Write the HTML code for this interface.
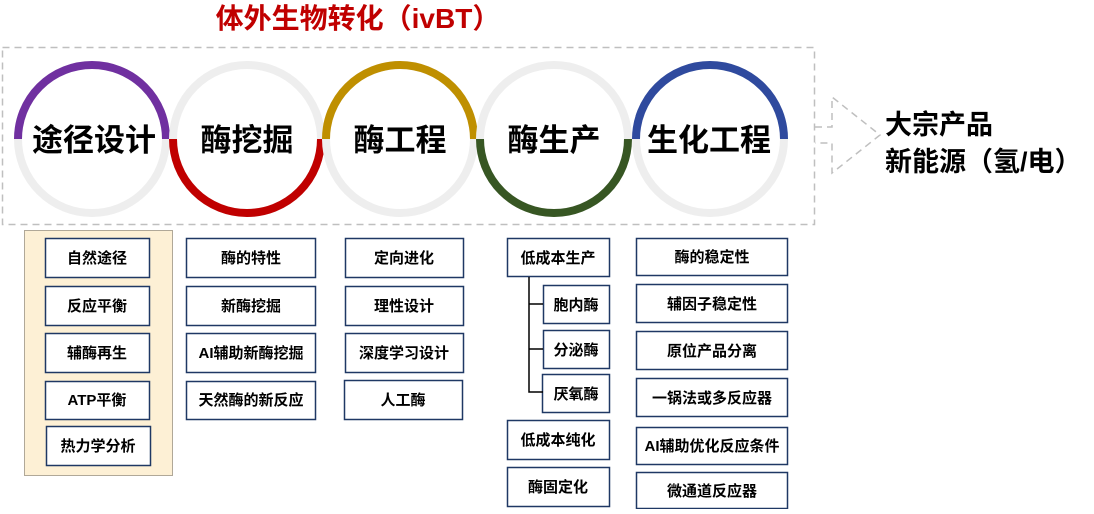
<!DOCTYPE html>
<html><head><meta charset="utf-8"><style>
html,body{margin:0;padding:0;background:#fff;}
text{font-family:"Liberation Sans","Noto Sans CJK SC",sans-serif;font-weight:bold;fill:#000;}
</style></head><body>
<svg width="1094" height="509" viewBox="0 0 1094 509" xmlns="http://www.w3.org/2000/svg">
<text x="358" y="28" font-size="28" text-anchor="middle" style="fill:#c00000">体外生物转化（ivBT）</text>
<rect x="2.5" y="47.5" width="812" height="177" fill="none" stroke="#bfbfbf" stroke-width="1.5" stroke-dasharray="7,5"/>
<polyline points="815,127 832,127 832,97 880,135 832,173 832,143 815,143" fill="none" stroke="#bfbfbf" stroke-width="1.5" stroke-dasharray="7,5"/>
<g fill="none" stroke-width="8">
<circle cx="92" cy="139" r="74" stroke="#eeeeee"/>
<path d="M18 139 A74 74 0 0 1 166 139" stroke="#7030a0"/>
<circle cx="247" cy="139" r="74" stroke="#eeeeee"/>
<path d="M173 139 A74 74 0 0 0 321 139" stroke="#c00000"/>
<circle cx="400" cy="139" r="74" stroke="#eeeeee"/>
<path d="M326 139 A74 74 0 0 1 474 139" stroke="#bf8f00"/>
<circle cx="554" cy="139" r="74" stroke="#eeeeee"/>
<path d="M480 139 A74 74 0 0 0 628 139" stroke="#375623"/>
<circle cx="710" cy="139" r="74" stroke="#eeeeee"/>
<path d="M636 139 A74 74 0 0 1 784 139" stroke="#2f4a9e"/>
</g>
<g font-size="31" text-anchor="middle" style="font-weight:900">
<text x="94" y="151">途径设计</text>
<text x="247" y="151">酶挖掘</text>
<text x="400" y="151">酶工程</text>
<text x="554" y="151">酶生产</text>
<text x="709" y="151">生化工程</text>
</g>
<text x="885" y="134" font-size="27">大宗产品</text>
<text x="885" y="171" font-size="27">新能源（氢/电）</text>
<rect x="24.5" y="230.5" width="148" height="245" fill="#fdf0d5" stroke="#b0a898"/>
<g fill="#fff" stroke="#1f3864" stroke-width="1.5">
<rect x="45.5" y="238.5" width="104" height="39"/><rect x="45.5" y="286.5" width="104" height="39"/><rect x="45.5" y="333.5" width="104" height="39"/><rect x="45.5" y="381.5" width="104" height="38"/><rect x="46.5" y="426.5" width="104" height="39"/>
<rect x="186.5" y="238.5" width="129" height="39"/><rect x="186.5" y="286.5" width="129" height="39"/><rect x="186.5" y="333.5" width="129" height="39"/><rect x="186.5" y="381.5" width="129" height="38"/>
<rect x="345.5" y="238.5" width="118" height="39"/><rect x="345.5" y="286.5" width="118" height="39"/><rect x="345.5" y="333.5" width="118" height="39"/><rect x="344.5" y="380.5" width="118" height="39"/>
<rect x="507.5" y="238.5" width="102" height="38"/><rect x="543.5" y="285.5" width="66" height="38"/><rect x="543.5" y="330.5" width="66" height="38"/><rect x="542.5" y="374.5" width="67" height="38"/><rect x="507.5" y="420.5" width="102" height="39"/><rect x="507.5" y="467.5" width="102" height="39"/>
<rect x="636.5" y="238.5" width="151" height="37"/><rect x="636.5" y="284.5" width="151" height="38"/><rect x="636.5" y="331.5" width="151" height="38"/><rect x="636.5" y="378.5" width="151" height="38"/><rect x="636.5" y="427.5" width="151" height="37"/><rect x="636.5" y="472.5" width="151" height="36"/>
</g>
<path d="M529 277 V392 H543 M529 304 H543 M529 349 H543" fill="none" stroke="#000" stroke-width="1.5"/>
<g font-size="15" text-anchor="middle">
<text x="97" y="263">自然途径</text><text x="97" y="311">反应平衡</text><text x="97" y="358">辅酶再生</text><text x="97" y="405">ATP平衡</text><text x="98" y="451">热力学分析</text>
<text x="251" y="263">酶的特性</text><text x="251" y="311">新酶挖掘</text><text x="251" y="358">AI辅助新酶挖掘</text><text x="251" y="405">天然酶的新反应</text>
<text x="404" y="263">定向进化</text><text x="404" y="311">理性设计</text><text x="404" y="358">深度学习设计</text><text x="403" y="405">人工酶</text>
<text x="558" y="263">低成本生产</text><text x="576" y="310">胞内酶</text><text x="576" y="355">分泌酶</text><text x="576" y="399">厌氧酶</text><text x="558" y="445">低成本纯化</text><text x="558" y="492">酶固定化</text>
<text x="712" y="262">酶的稳定性</text><text x="712" y="309">辅因子稳定性</text><text x="712" y="356">原位产品分离</text><text x="712" y="403">一锅法或多反应器</text><text x="712" y="451">AI辅助优化反应条件</text><text x="712" y="496">微通道反应器</text>
</g>
</svg>
</body></html>
